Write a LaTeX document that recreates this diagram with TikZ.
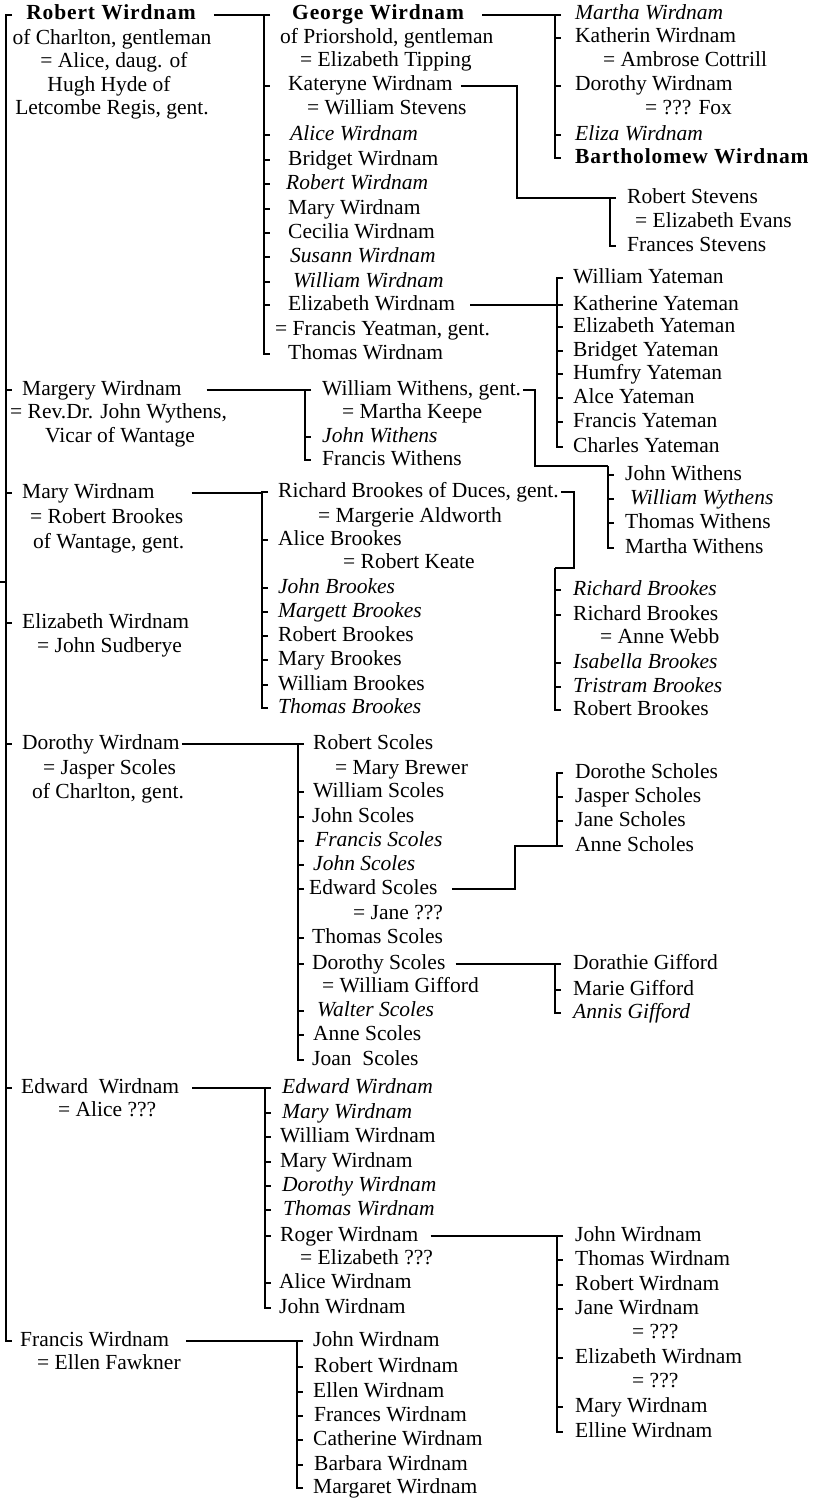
\documentclass[tikz,border=0pt]{standalone}
\usepackage{fontspec}
\setmainfont{Liberation Serif}
\newcommand\fsz{\fontsize{21.5}{24}\selectfont}
\newcommand\bfw{\bfseries\addfontfeature{LetterSpace=4}}
\tikzset{
  t/.style={anchor=west, inner sep=0pt, text height=15pt, text depth=5pt, font=\fsz},
  ti/.style={t, font=\fsz\itshape},
  tb/.style={t, font=\fsz\bfw},
  tc/.style={t, anchor=center},
  ln/.style={line width=1.2pt, line join=miter}
}
% #1 bracket coordinate, #2 top node, #3 bottom node, #4 middle nodes
\newcommand\famline[4]{%
  \draw[ln] (#1 |- #2.west) ++(6,0) -- ++(-6,0) -- (#1 |- #3.west) -- ++(6,0);
  \foreach \c in {#4}{\draw[ln] (#1 |- \c.west) -- ++(6,0);}
}
\begin{document}
\begin{tikzpicture}[x=1pt,y=-1pt]
\useasboundingbox (0,0) rectangle (814,1501);
% bracket coordinates
\coordinate (b1) at (6,0);
\coordinate (b2) at (264,0);
\coordinate (b3) at (555,0);
\coordinate (bSt) at (610,0);
\coordinate (k1) at (517,0);
\coordinate (bY) at (557,0);
\coordinate (bW) at (305,0);
\coordinate (j1) at (535,0);
\coordinate (wtop) at (608,466);
\coordinate (bB) at (262,0);
\coordinate (r1) at (574,0);
\coordinate (btop) at (555,568);
\coordinate (bS) at (298,0);
\coordinate (s1) at (515,0);
\coordinate (bSch) at (557,0);
\coordinate (bG) at (555,0);
\coordinate (bE) at (265,0);
\coordinate (bR) at (557,0);
\coordinate (bF) at (297,0);
\coordinate (b1m) at (6,582);

% column 1
\node[tc,font=\fsz\bfw] (rw) at (111,15) {Robert Wirdnam};
\node[tc] (rw1) at (112,40) {of Charlton, gentleman};
\node[tc] (rw2) at (114,63) {= Alice, daug. of};
\node[tc] (rw3) at (109,87) {Hugh Hyde of};
\node[tc] (rw4) at (112,110) {Letcombe Regis, gent.};

\node[t] (mg) at (22,390) {Margery Wirdnam};
\node[t] (mg1) at (10,413) {= Rev.Dr. John Wythens,};
\node[t] (mg2) at (45,437) {Vicar of Wantage};

\node[t] (mw) at (22,493) {Mary Wirdnam};
\node[t] (mw1) at (30,518) {= Robert Brookes};
\node[t] (mw2) at (33,543) {of Wantage, gent.};

\node[t] (ew) at (22,623) {Elizabeth Wirdnam};
\node[t] (ew1) at (37,647) {= John Sudberye};

\node[t] (dw) at (22,744) {Dorothy Wirdnam};
\node[t] (dw1) at (43,769) {= Jasper Scoles};
\node[t] (dw2) at (32,793) {of Charlton, gent.};

\node[t] (edw) at (21,1088) {Edward\ \ Wirdnam};
\node[t] (edw1) at (58,1111) {= Alice ???};

\node[t] (fw) at (20,1341) {Francis Wirdnam};
\node[t] (fw1) at (37,1364) {= Ellen Fawkner};

% George group
\node[tb] (gw) at (292,15) {George Wirdnam};
\node[t] (gw1) at (280,39) {of Priorshold, gentleman};
\node[t] (gw2) at (300,62) {= Elizabeth Tipping};
\node[t] (kw) at (288,86) {Kateryne Wirdnam};
\node[t] (kw1) at (307,110) {= William Stevens};
\node[ti] (aw) at (290,135) {Alice Wirdnam};
\node[t] (bw) at (288,160) {Bridget Wirdnam};
\node[ti] (row) at (286,184) {Robert Wirdnam};
\node[t] (maw2) at (288,209) {Mary Wirdnam};
\node[t] (cw) at (288,233) {Cecilia Wirdnam};
\node[ti] (sw) at (290,257) {Susann Wirdnam};
\node[ti] (ww) at (293,282) {William Wirdnam};
\node[t] (ezw) at (288,305) {Elizabeth Wirdnam};
\node[t] (ezw1) at (275,330) {= Francis Yeatman, gent.};
\node[t] (tw) at (288,354) {Thomas Wirdnam};

% George's children
\node[ti] (mtw) at (575,15) {Martha Wirdnam};
\node[t] (kaw) at (575,38) {Katherin Wirdnam};
\node[t] (kaw1) at (603,62) {= Ambrose Cottrill};
\node[t] (dow) at (575,86) {Dorothy Wirdnam};
\node[t] (dow1) at (645,110) {= ??? Fox};
\node[ti] (elzw) at (575,135) {Eliza Wirdnam};
\node[tb] (bartw) at (575,158) {Bartholomew Wirdnam};

% Stevens
\node[t] (rst) at (627,198) {Robert Stevens};
\node[t] (rst1) at (635,222) {= Elizabeth Evans};
\node[t] (fst) at (627,246) {Frances Stevens};

% Yateman
\node[t] (wy) at (573,278) {William Yateman};
\node[t] (ky) at (573,305) {Katherine Yateman};
\node[t] (ey) at (573,327) {Elizabeth Yateman};
\node[t] (by) at (573,351) {Bridget Yateman};
\node[t] (hy) at (573,374) {Humfry Yateman};
\node[t] (ay) at (573,398) {Alce Yateman};
\node[t] (fy) at (573,422) {Francis Yateman};
\node[t] (cy) at (573,447) {Charles Yateman};

% Withens
\node[t] (wwg) at (322,390) {William Withens, gent.};
\node[t] (wwg1) at (342,413) {= Martha Keepe};
\node[ti] (jwi) at (322,437) {John Withens};
\node[t] (fwi) at (322,460) {Francis Withens};

\node[t] (jwt) at (625,475) {John Withens};
\node[ti] (wwy) at (630,499) {William Wythens};
\node[t] (twt) at (625,523) {Thomas Withens};
\node[t] (mwt) at (625,548) {Martha Withens};

% Brookes
\node[t] (rbd) at (278,492) {Richard Brookes of Duces, gent.};
\node[t] (rbd1) at (318,517) {= Margerie Aldworth};
\node[t] (ab) at (278,540) {Alice Brookes};
\node[t] (ab1) at (343,563) {= Robert Keate};
\node[ti] (jb) at (278,588) {John Brookes};
\node[ti] (mgb) at (278,612) {Margett Brookes};
\node[t] (rb) at (278,636) {Robert Brookes};
\node[t] (mb) at (278,660) {Mary Brookes};
\node[t] (wb) at (278,685) {William Brookes};
\node[ti] (tb) at (278,708) {Thomas Brookes};

\node[ti] (rbi) at (573,590) {Richard Brookes};
\node[t] (rbr) at (573,615) {Richard Brookes};
\node[t] (rbr1) at (600,638) {= Anne Webb};
\node[ti] (ib) at (573,663) {Isabella Brookes};
\node[ti] (trb) at (573,687) {Tristram Brookes};
\node[t] (rbb) at (573,710) {Robert Brookes};

% Scoles
\node[t] (rsc) at (313,744) {Robert Scoles};
\node[t] (rsc1) at (335,769) {= Mary Brewer};
\node[t] (wsc) at (313,792) {William Scoles};
\node[t] (jsc) at (312,817) {John Scoles};
\node[ti] (fsc) at (315,841) {Francis Scoles};
\node[ti] (jsci) at (313,865) {John Scoles};
\node[t] (esc) at (309,889) {Edward Scoles};
\node[t] (esc1) at (353,914) {= Jane ???};
\node[t] (tsc) at (312,938) {Thomas Scoles};
\node[t] (dsc) at (312,964) {Dorothy Scoles};
\node[t] (dsc1) at (322,987) {= William Gifford};
\node[ti] (wasc) at (317,1011) {Walter Scoles};
\node[t] (asc) at (313,1035) {Anne Scoles};
\node[t] (josc) at (312,1060) {Joan\ \ Scoles};

\node[t] (dsch) at (575,773) {Dorothe Scholes};
\node[t] (jsch) at (575,797) {Jasper Scholes};
\node[t] (jash) at (575,821) {Jane Scholes};
\node[t] (ansh) at (575,846) {Anne Scholes};

\node[t] (dgf) at (573,964) {Dorathie Gifford};
\node[t] (mgf) at (573,990) {Marie Gifford};
\node[ti] (agf) at (573,1013) {Annis Gifford};

% Edward group
\node[ti] (edi) at (282,1088) {Edward Wirdnam};
\node[ti] (mwi) at (282,1113) {Mary Wirdnam};
\node[t] (wiw) at (280,1137) {William Wirdnam};
\node[t] (mw3) at (280,1162) {Mary Wirdnam};
\node[ti] (dwi) at (282,1186) {Dorothy Wirdnam};
\node[ti] (twi) at (283,1210) {Thomas Wirdnam};
\node[t] (rgw) at (280,1236) {Roger Wirdnam};
\node[t] (rgw1) at (300,1259) {= Elizabeth ???};
\node[t] (alw) at (279,1283) {Alice Wirdnam};
\node[t] (jw3) at (279,1308) {John Wirdnam};

\node[t] (jw4) at (575,1236) {John Wirdnam};
\node[t] (tw4) at (575,1260) {Thomas Wirdnam};
\node[t] (rw5) at (575,1285) {Robert Wirdnam};
\node[t] (jaw) at (575,1309) {Jane Wirdnam};
\node[t] (jaw1) at (632,1333) {= ???};
\node[t] (ezw4) at (575,1358) {Elizabeth Wirdnam};
\node[t] (ezw41) at (632,1382) {= ???};
\node[t] (mw4) at (575,1407) {Mary Wirdnam};
\node[t] (elw) at (575,1432) {Elline Wirdnam};

% Francis group
\node[t] (jw5) at (313,1341) {John Wirdnam};
\node[t] (row5) at (314,1367) {Robert Wirdnam};
\node[t] (elnw) at (313,1392) {Ellen Wirdnam};
\node[t] (frw) at (314,1416) {Frances Wirdnam};
\node[t] (caw) at (313,1440) {Catherine Wirdnam};
\node[t] (baw) at (314,1465) {Barbara Wirdnam};
\node[t] (mgw) at (313,1488) {Margaret Wirdnam};

% ---------- connectors ----------
\famline{b1}{rw}{fw}{mg,mw,ew,dw,edw}
\draw[ln] (b1m) -- ++(-6,0);
\draw[ln] (rw.east) ++(18,0) -- (b2 |- rw.east);

\famline{b2}{gw}{tw}{kw,aw,bw,row,maw2,cw,sw,ww,ezw}
\draw[ln] (gw.east) ++(18,0) -- (b3 |- gw.east);
\famline{b3}{mtw}{bartw}{kaw,dow,elzw}

\draw[ln] (kw.east) ++(8,0) -- (k1 |- kw.east) -- (k1 |- rst.west) -- (bSt |- rst.west);
\famline{bSt}{rst}{fst}{}

\draw[ln] (ezw.east) ++(15,0) -- (bY |- ezw.east);
\famline{bY}{wy}{cy}{ky,ey,by,hy,ay,fy}

\draw[ln] (mg.east) ++(25,0) -- (bW |- mg.east);
\famline{bW}{wwg}{fwi}{jwi}
\draw[ln] (wwg.east) ++(2,0) -- (j1 |- wwg.east) -- (j1 |- wtop) -- (wtop);
\draw[ln] (wtop) -- (wtop |- mwt.west) -- ++(6,0);
\foreach \c in {jwt,wwy,twt}{\draw[ln] (wtop |- \c.west) -- ++(6,0);}

\draw[ln] (mw.east) ++(37,0) -- (bB |- mw.east);
\famline{bB}{rbd}{tb}{ab,jb,mgb,rb,mb,wb}
\draw[ln] (rbd.east) ++(2,0) -- (r1 |- rbd.east) -- (r1 |- btop) -- (btop);
\draw[ln] (btop) -- (btop |- rbb.west) -- ++(6,0);
\foreach \c in {rbi,rbr,ib,trb}{\draw[ln] (btop |- \c.west) -- ++(6,0);}

\draw[ln] (dw.east) ++(2,0) -- (bS |- dw.east);
\famline{bS}{rsc}{josc}{wsc,jsc,fsc,jsci,esc,tsc,dsc,wasc,asc}
\draw[ln] (esc.east) ++(14,0) -- (s1 |- esc.east) -- (s1 |- ansh.west) -- (bSch |- ansh.west);
\famline{bSch}{dsch}{ansh}{jsch,jash}
\draw[ln] (dsc.east) ++(10,0) -- (bG |- dsc.east);
\famline{bG}{dgf}{agf}{mgf}

\draw[ln] (edw.east) ++(13,0) -- (bE |- edw.east);
\famline{bE}{edi}{jw3}{mwi,wiw,mw3,dwi,twi,rgw,alw}
\draw[ln] (rgw.east) ++(12,0) -- (bR |- rgw.east);
\famline{bR}{jw4}{elw}{tw4,rw5,jaw,ezw4,mw4}

\draw[ln] (fw.east) ++(17,0) -- (bF |- fw.east);
\famline{bF}{jw5}{mgw}{row5,elnw,frw,caw,baw}
\end{tikzpicture}
\end{document}
